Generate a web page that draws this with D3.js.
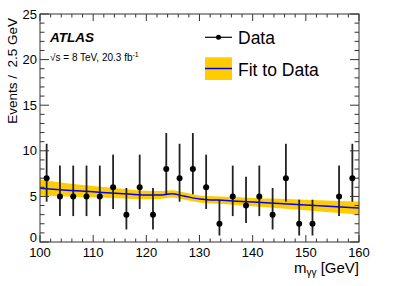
<!DOCTYPE html>
<html><head><meta charset="utf-8">
<script src="https://cdn.jsdelivr.net/npm/d3@7"></script>
<style>body{margin:0;background:#fff}svg{display:block;font-family:"Liberation Sans",Arial,sans-serif}</style>
</head><body>
<svg id="c" width="399" height="286"></svg>
<script>
// Data (bin centres, counts, Poisson 68% intervals)
const binCenters = [101.25,103.75,106.25,108.75,111.25,113.75,116.25,118.75,121.25,123.75,126.25,128.75,131.25,133.75,136.25,138.75,141.25,143.75,146.25,148.75,151.25,156.25,158.75];
const counts     = [7,5,5,5,5,6,3,6,3,8,7,8,6,2,5,4,5,3,7,2,2,5,7];
const poissonLow  = {2:0.708,3:1.37,4:2.09,5:2.84,6:3.62,7:4.42,8:5.23};
const poissonHigh = {2:4.64,3:5.92,4:7.16,5:8.38,6:9.58,7:10.77,8:11.95};
// Fit curve and uncertainty band
const fitX  = [100,105,110,115,120,122.5,124.75,127,130,135,140,145,150,155,160];
const fitY  = [5.9,5.68,5.5,5.32,5.15,5.15,5.28,5.05,4.72,4.55,4.38,4.22,4.06,3.88,3.72];
const fitLo = [5.1,5.0,4.9,4.8,4.68,4.71,4.88,4.65,4.34,4.15,3.93,3.7,3.48,3.23,3.0];
const fitHi = [6.85,6.45,6.15,5.87,5.62,5.59,5.68,5.45,5.1,4.95,4.83,4.74,4.64,4.53,4.44];
const xTicks = [100,110,120,130,140,150,160];
const yTicks = [0,5,10,15,20,25];

const svg = d3.select("#c");
const L=40, R=359, T=14, B=242;
const x = d3.scaleLinear().domain([100,160]).range([L,R]);
const y = d3.scaleLinear().domain([0,25]).range([B,T]);

// band
const fitData = fitX.map((v,i)=>({x:v,y:fitY[i],lo:fitLo[i],hi:fitHi[i]}));
svg.append("path").datum(fitData)
  .attr("d", d3.area().x(d=>x(d.x)).y0(d=>y(d.lo)).y1(d=>y(d.hi)).curve(d3.curveMonotoneX))
  .attr("fill","#ffcc00");
svg.append("path").datum(fitData)
  .attr("d", d3.line().x(d=>x(d.x)).y(d=>y(d.y)).curve(d3.curveMonotoneX))
  .attr("fill","none").attr("stroke","#0000ff").attr("stroke-width",1.5);

// data points
const pts = binCenters.map((c,i)=>({x:c,n:counts[i]}));
svg.selectAll("line.err").data(pts).enter().append("line")
  .attr("x1",d=>x(d.x)).attr("x2",d=>x(d.x))
  .attr("y1",d=>y(poissonLow[d.n])).attr("y2",d=>y(poissonHigh[d.n]))
  .attr("stroke","#222").attr("stroke-width",1.8);
svg.selectAll("circle.pt").data(pts).enter().append("circle")
  .attr("cx",d=>x(d.x)).attr("cy",d=>y(d.n)).attr("r",3).attr("fill","#000");

// frame and ticks
const ax = svg.append("g").attr("stroke","#333").attr("stroke-width",1).attr("fill","none");
ax.append("rect").attr("x",L).attr("y",T).attr("width",R-L).attr("height",B-T);
d3.range(0,25.01,1).forEach(v=>{
  const len = v%5===0 ? 9 : 4.5;
  ax.append("line").attr("x1",L).attr("x2",L+len).attr("y1",y(v)).attr("y2",y(v));
  ax.append("line").attr("x1",R).attr("x2",R-len).attr("y1",y(v)).attr("y2",y(v));
});
d3.range(100,160.01,2).forEach(v=>{
  const len = v%10===0 ? 7 : 3.5;
  ax.append("line").attr("x1",x(v)).attr("x2",x(v)).attr("y1",B).attr("y2",B-len);
  ax.append("line").attr("x1",x(v)).attr("x2",x(v)).attr("y1",T).attr("y2",T+len);
});

// tick labels
svg.selectAll("text.yt").data(yTicks).enter().append("text")
  .attr("x",37).attr("y",d=>y(d)+(d===0?0:4.6)).attr("text-anchor","end")
  .attr("font-size",13).text(d=>d);
svg.selectAll("text.xt").data(xTicks).enter().append("text")
  .attr("x",d=>x(d)).attr("y",257).attr("text-anchor","middle")
  .attr("font-size",13).text(d=>d);

// axis titles
svg.append("text").attr("transform","translate(17,18) rotate(-90)")
  .attr("text-anchor","end").attr("font-size",13.5).attr("xml:space","preserve")
  .text("Events /  2.5 GeV");
const xt = svg.append("text").attr("x",R).attr("y",273).attr("text-anchor","end").attr("font-size",15);
xt.append("tspan").text("m");
xt.append("tspan").attr("font-size",10).attr("dy",3).text("γγ");
xt.append("tspan").attr("dy",-3).text(" [GeV]");

// ATLAS labels
svg.append("text").attr("x",50).attr("y",42).attr("font-size",13.5)
  .attr("font-weight","bold").attr("font-style","italic").text("ATLAS");
const lum = svg.append("text").attr("x",50).attr("y",61).attr("font-size",10);
lum.append("tspan").text("√s = 8 TeV, 20.3 fb");
lum.append("tspan").attr("font-size",7).attr("dy",-4).text("-1");

// legend
svg.append("line").attr("x1",205).attr("x2",232).attr("y1",37.3).attr("y2",37.3).attr("stroke","#000").attr("stroke-width",1.2);
svg.append("circle").attr("cx",218.5).attr("cy",37.3).attr("r",2.5).attr("fill","#000");
svg.append("text").attr("x",238).attr("y",43.5).attr("font-size",17.5).text("Data");
svg.append("rect").attr("x",205).attr("y",57.3).attr("width",27).attr("height",22.7).attr("fill","#ffcc00");
svg.append("line").attr("x1",205).attr("x2",232).attr("y1",68.5).attr("y2",68.5).attr("stroke","#0000ff").attr("stroke-width",1.5);
svg.append("text").attr("x",238).attr("y",76).attr("font-size",17.5).text("Fit to Data");
</script>
</body></html>
